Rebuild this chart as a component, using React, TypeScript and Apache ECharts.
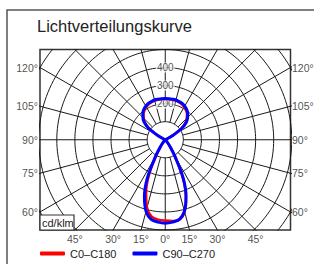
import React, { useEffect, useRef } from "react";
import * as echarts from "echarts";

const titleText = "Lichtverteilungskurve";
const unitText = "cd/klm";
const seriesNames = ["C0–C180", "C90–C270"];

// gamma angles (0° = nadir, 180° = zenith)
const gammaAngles = [
  0, 5, 10, 15, 20, 25, 30, 35, 40, 45, 50, 55, 60, 65, 70, 75, 80, 85, 90,
  95, 100, 105, 110, 115, 120, 125, 130, 135, 140, 145, 150, 155, 160, 165, 170, 175, 180,
];
// intensities in cd/klm
const c0 = [
  448, 452, 450, 413, 333, 226, 104, 42, 14, 4, 0, 0, 0, 0, 0, 0, 0, 0, 0,
  0, 0, 0, 0, 4, 44, 108, 146, 168, 187, 200, 210, 217, 221, 224, 225, 226, 226,
];
const c180 = [
  448, 444, 432, 390, 310, 210, 96, 38, 12, 4, 0, 0, 0, 0, 0, 0, 0, 0, 0,
  0, 0, 0, 0, 4, 44, 108, 146, 168, 187, 200, 210, 217, 221, 224, 225, 226, 226,
];
const c90 = [
  462, 458, 448, 410, 337, 235, 110, 45, 15, 5, 0, 0, 0, 0, 0, 0, 0, 0, 0,
  0, 0, 0, 0, 5, 48, 114, 153, 175, 193, 206, 215, 222, 225, 228, 228, 228, 228,
];
const c270 = [
  462, 458, 448, 410, 337, 235, 110, 45, 15, 5, 0, 0, 0, 0, 0, 0, 0, 0, 0,
  0, 0, 0, 0, 5, 48, 114, 153, 175, 193, 206, 215, 222, 225, 228, 228, 228, 228,
];

const gridRadii = [100, 200, 300, 400, 500, 600, 700, 800];
const spokeAngles = [0, 15, 30, 45, 60, 75, 90, 105, 120, 135, 150, 165, 180, 195, 210, 225, 240, 255, 270, 285, 300, 315, 330, 345];
const radiusTickLabels = [200, 300, 400];
const sideAngleLabels = [120, 105, 90, 75, 60];
const bottomAngleLabels = [-45, -30, -15, 0, 15, 30, 45];

const X_MAX = 693;
const Y_MAX = 500;
const INNER_R = 100;
const OUTER_R = 1000;

const rad = (d: number) => (d * Math.PI) / 180;
const toXY = (g: number, r: number, side: number): number[] => [
  side * r * Math.sin(rad(g)),
  -r * Math.cos(rad(g)),
];

function buildCurve(right: number[], left: number[]) {
  const pts: number[][] = [];
  const push = (p: number[]) => {
    const last = pts[pts.length - 1];
    if (last && Math.abs(last[0] - p[0]) < 1e-6 && Math.abs(last[1] - p[1]) < 1e-6) return;
    pts.push(p);
  };
  const n = gammaAngles.length;
  const i90 = gammaAngles.indexOf(90);
  for (let i = i90; i < n; i++) push(toXY(gammaAngles[i], right[i], 1));
  for (let i = n - 2; i >= 0; i--) push(toXY(gammaAngles[i], left[i], -1));
  for (let i = 1; i <= i90; i++) push(toXY(gammaAngles[i], right[i], 1));
  return pts;
}

export default function App() {
  const ref = useRef<HTMLDivElement>(null);
  useEffect(() => {
    if (!ref.current) return;
    const chart = echarts.init(ref.current, undefined, { renderer: "svg" });
    const font = "Liberation Sans, Arial, sans-serif";
    const gridLineStyle = { color: "#1a1a1a", width: 1 };
    const series: any[] = [];
    gridRadii.forEach((r) => {
      const pts: number[][] = [];
      for (let a = 0; a <= 360; a += 2) pts.push(toXY(a, r, 1));
      series.push({
        type: "line", data: pts, symbol: "none", silent: true, clip: true,
        lineStyle: gridLineStyle, z: 1,
      });
    });
    spokeAngles.forEach((a) => {
      series.push({
        type: "line", data: [toXY(a, INNER_R, 1), toXY(a, OUTER_R, 1)], symbol: "none",
        silent: true, clip: true, lineStyle: gridLineStyle, z: 1,
      });
    });
    series.push({
      type: "scatter", symbolSize: 1, clip: false, silent: true, z: 2,
      itemStyle: { color: "rgba(0,0,0,0)" },
      data: radiusTickLabels.map((r) => [0, r, String(r)]),
      label: {
        show: true, position: "inside", formatter: (p: any) => p.value[2],
        fontSize: 10, fontFamily: font, color: "#222", backgroundColor: "#fff", padding: [0, 1],
      },
    });
    const sideLabel = (pos: string) => ({
      show: true, position: pos, distance: 1.5, formatter: (p: any) => p.value[2],
      fontSize: 10.5, fontFamily: font, color: "#222",
    });
    series.push({
      type: "scatter", symbolSize: 1, clip: false, silent: true, z: 2,
      itemStyle: { color: "rgba(0,0,0,0)" },
      data: sideAngleLabels.map((a) => [-X_MAX, X_MAX * Math.tan(rad(a - 90)), a + "°"]),
      label: sideLabel("left"),
    });
    series.push({
      type: "scatter", symbolSize: 1, clip: false, silent: true, z: 2,
      itemStyle: { color: "rgba(0,0,0,0)" },
      data: sideAngleLabels.map((a) => [X_MAX, X_MAX * Math.tan(rad(a - 90)), a + "°"]),
      label: { ...sideLabel("right"), distance: 1 },
    });
    series.push({
      type: "scatter", symbolSize: 1, clip: false, silent: true, z: 2,
      itemStyle: { color: "rgba(0,0,0,0)" },
      data: bottomAngleLabels.map((a) => [Y_MAX * Math.tan(rad(a)), -Y_MAX, Math.abs(a) + "°"]),
      label: { ...sideLabel("bottom"), distance: 2.5 },
    });
    series.push({
      name: seriesNames[0], type: "line", data: buildCurve(c0, c180), symbol: "none",
      smooth: 0.35, clip: true, color: "#ff0000", z: 3,
      lineStyle: { color: "#ff0000", width: 2.5 },
    });
    series.push({
      name: seriesNames[1], type: "line", data: buildCurve(c90, c270), symbol: "none",
      smooth: 0.35, clip: true, color: "#0000ff", z: 4,
      lineStyle: { color: "#0000ff", width: 3 },
    });

    chart.setOption({
      animation: false,
      title: {
        text: titleText, left: 37, top: 17, padding: 0,
        textStyle: { fontSize: 16.5, fontWeight: "normal", color: "#222", fontFamily: font },
      },
      grid: {
        left: 40, right: 23.5, top: 49.5, bottom: 34, show: true,
        borderColor: "#333", borderWidth: 1.5, backgroundColor: "transparent",
      },
      xAxis: { type: "value", min: -X_MAX, max: X_MAX, show: false },
      yAxis: { type: "value", min: -Y_MAX, max: Y_MAX, show: false },
      legend: {
        data: seriesNames, left: 40, top: 248, padding: 0, icon: "roundRect", itemWidth: 25, itemHeight: 4,
        itemGap: 16, textStyle: { fontSize: 11, color: "#222", fontFamily: font },
      },
      graphic: [
        {
          type: "rect", shape: { x: 7, y: 10, width: 400, height: 400 },
          style: { fill: "none", stroke: "#555", lineWidth: 1.5 }, z: 0, silent: true,
        },
        {
          type: "rect", shape: { x: 40, y: 215, width: 34, height: 15 },
          style: { fill: "#fff", stroke: "#333", lineWidth: 1.2 }, z: 100,
        },
        {
          type: "text", x: 42, y: 222.5, z: 101,
          style: { text: unitText, fontSize: 11, fontFamily: font, fill: "#222", verticalAlign: "middle" },
        },
      ],
      series,
    });
    return () => chart.dispose();
  }, []);
  return (
    <div
      ref={ref}
      style={{ position: "absolute", left: 0, top: 0, width: 314, height: 264, background: "#fff" }}
    />
  );
}
